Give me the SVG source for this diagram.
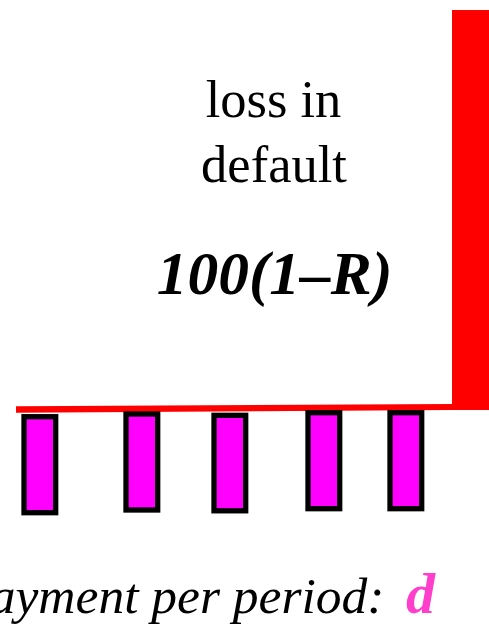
<svg xmlns="http://www.w3.org/2000/svg" width="489" height="624" viewBox="0 0 489 624">
<style>
.bar{fill:#ff00ff;stroke:#000;stroke-width:5.3}
.red{fill:#ff0000}
.t{font-family:"Liberation Serif","Times New Roman",serif;fill:#000}
</style>
<rect width="489" height="624" fill="#fff"/>
<g id="default-leg">
<rect class="red" x="452" y="10" width="37" height="400"/>
<polygon class="red" points="16,406.3 452,404 452,410 16,412.7"/>
</g>
<g id="payments">
<rect class="bar" x="24" y="416.7" width="31.7" height="96"/>
<rect class="bar" x="126" y="414" width="31.7" height="96"/>
<rect class="bar" x="214" y="415.3" width="31.7" height="95.5"/>
<rect class="bar" x="308" y="412.7" width="31.7" height="96"/>
<rect class="bar" x="390" y="412.7" width="31.7" height="96"/>
</g>
<g id="labels">
<text class="t" x="273.5" y="117" font-size="52.5" text-anchor="middle">loss in</text>
<text class="t" x="274" y="181.5" font-size="52.5" text-anchor="middle">default</text>
<text class="t" x="274.5" y="294" font-size="61.5" font-style="italic" font-weight="bold" text-anchor="middle">100(1–R)</text>
<text class="t" x="-36" y="613" font-size="51.5" font-style="italic">payment per period: <tspan x="406" font-size="58" font-weight="bold" fill="#ff3fcc">d</tspan></text>
</g>
</svg>
